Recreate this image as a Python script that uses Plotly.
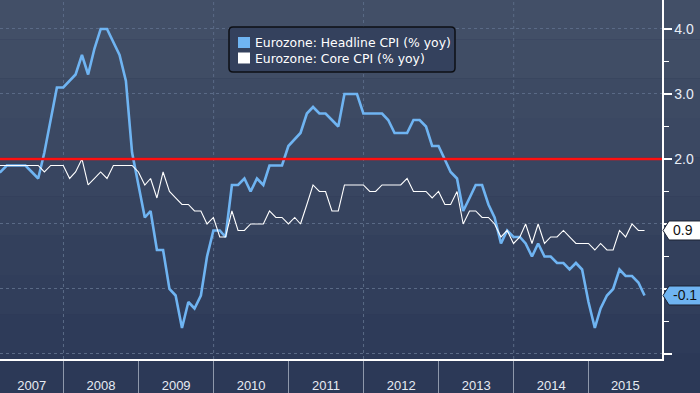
import pandas as pd
import plotly.graph_objects as go

# ---------------- data (monthly, Jan 2007 .. Sep 2015) ----------------
START_MONTH = "2007-01-01"
HEADLINE = [
    1.8, 1.8, 1.9, 1.9, 1.9, 1.9, 1.8, 1.7, 2.1, 2.6, 3.1, 3.1,   # 2007
    3.2, 3.3, 3.6, 3.3, 3.7, 4.0, 4.0, 3.8, 3.6, 3.2, 2.1, 1.6,   # 2008
    1.1, 1.2, 0.6, 0.6, 0.0, -0.1, -0.6, -0.2, -0.3, -0.1, 0.5, 0.9,  # 2009
    0.9, 0.8, 1.6, 1.6, 1.7, 1.5, 1.7, 1.6, 1.9, 1.9, 1.9, 2.2,   # 2010
    2.3, 2.4, 2.7, 2.8, 2.7, 2.7, 2.6, 2.5, 3.0, 3.0, 3.0, 2.7,   # 2011
    2.7, 2.7, 2.7, 2.6, 2.4, 2.4, 2.4, 2.6, 2.6, 2.5, 2.2, 2.2,   # 2012
    2.0, 1.8, 1.7, 1.2, 1.4, 1.6, 1.6, 1.3, 1.1, 0.7, 0.9, 0.8,   # 2013
    0.8, 0.7, 0.5, 0.7, 0.5, 0.5, 0.4, 0.4, 0.3, 0.4, 0.3, -0.2,  # 2014
    -0.6, -0.3, -0.1, 0.0, 0.3, 0.2, 0.2, 0.1, -0.1,              # 2015
]
CORE = [
    1.9, 1.9, 1.9, 1.9, 1.9, 1.9, 1.9, 1.9, 1.8, 1.9, 1.9, 1.9,   # 2007
    1.7, 1.8, 2.0, 1.6, 1.7, 1.8, 1.7, 1.9, 1.9, 1.9, 1.9, 1.8,   # 2008
    1.6, 1.7, 1.4, 1.8, 1.5, 1.4, 1.3, 1.3, 1.2, 1.2, 1.0, 1.1,   # 2009
    0.8, 0.8, 1.2, 0.9, 0.9, 1.0, 1.0, 1.0, 1.2, 1.1, 1.1, 1.0,   # 2010
    1.1, 1.0, 1.3, 1.6, 1.5, 1.5, 1.2, 1.2, 1.6, 1.6, 1.6, 1.6,   # 2011
    1.5, 1.5, 1.6, 1.6, 1.6, 1.6, 1.7, 1.5, 1.5, 1.5, 1.4, 1.5,   # 2012
    1.3, 1.3, 1.5, 1.0, 1.2, 1.2, 1.1, 1.1, 1.0, 0.8, 0.9, 0.7,   # 2013
    0.8, 1.0, 0.7, 1.0, 0.7, 0.8, 0.8, 0.9, 0.8, 0.7, 0.7, 0.7,   # 2014
    0.6, 0.7, 0.6, 0.6, 0.9, 0.8, 1.0, 0.9, 0.9,                  # 2015
]
SERIES_NAMES = ["Eurozone: Headline CPI (% yoy)", "Eurozone: Core CPI (% yoy)"]
YEARS = ["2007", "2008", "2009", "2010", "2011", "2012", "2013", "2014", "2015"]
Y_TICKS = [-1, 0, 1, 2, 3, 4]
Y_TICK_TEXT = ["", "", "", "2.0", "3.0", "4.0"]   # 0.0 / 1.0 hidden behind value tags
TARGET = 2.0

# ---------------- styling ----------------
W, H = 700, 393
ML, MR, MT, MB = 0, 38, 0, 34
PW, PH = W - ML - MR, H - MT - MB
X_RANGE = ["2007-02-26", "2015-12-24"]
Y_RANGE = [-1.077, 4.446]
BLUE = "#6fb4f2"
WHITE = "#ffffff"
GRID = "#5a6a86"
FONT = "Liberation Sans"

dates = pd.date_range(START_MONTH, periods=len(HEADLINE), freq="MS") + pd.offsets.MonthEnd(0)


def px2x(px):
    return (px - ML) / PW


def px2y(py):
    return (MT + PH - py) / PH


fig = go.Figure()
fig.add_trace(go.Scatter(x=dates, y=HEADLINE, mode="lines", name=SERIES_NAMES[0],
                         line=dict(color=BLUE, width=2.6), showlegend=False))
fig.add_trace(go.Scatter(x=dates[:len(CORE)], y=CORE, mode="lines", name=SERIES_NAMES[1],
                         line=dict(color=WHITE, width=1.1), showlegend=False))

shapes = []
# background gradient bands across whole canvas
top_c = (66, 79, 103)
bot_c = (44, 57, 87)
nb = 10
for i in range(nb):
    t = i / (nb - 1)
    c = tuple(round(top_c[k] + (bot_c[k] - top_c[k]) * t) for k in range(3))
    y0 = i * H / nb
    y1 = (i + 1) * H / nb
    shapes.append(dict(type="rect", xref="paper", yref="paper", layer="below",
                       x0=px2x(0), x1=px2x(W), y0=px2y(y1), y1=px2y(y0),
                       fillcolor="rgb(%d,%d,%d)" % c, line=dict(width=0)))

# vertical dashed grid every two years
start = pd.Timestamp(X_RANGE[0])
end = pd.Timestamp(X_RANGE[1])
year_starts = [pd.Timestamp(f"{int(y)}-01-01") for y in YEARS] + [pd.Timestamp(f"{int(YEARS[-1]) + 1}-01-01")]
for ys in year_starts:
    if start < ys < end and ys.year % 2 == 0:
        shapes.append(dict(type="line", xref="x", yref="paper", layer="below",
                           x0=ys, x1=ys, y0=0, y1=1,
                           line=dict(color=GRID, width=1, dash="3px,3px")))

# target line
shapes.append(dict(type="line", xref="paper", yref="y", x0=0, x1=1, y0=TARGET, y1=TARGET,
                   line=dict(color="#ff1010", width=2.5)))

# legend box
lx0, lx1, ly0, ly1, r = 229, 455, 27, 72, 4
X = lambda p: px2x(p)
Y = lambda p: px2y(p)
path = (f"M {X(lx0 + r)} {Y(ly0)} L {X(lx1 - r)} {Y(ly0)} Q {X(lx1)} {Y(ly0)} {X(lx1)} {Y(ly0 + r)} "
        f"L {X(lx1)} {Y(ly1 - r)} Q {X(lx1)} {Y(ly1)} {X(lx1 - r)} {Y(ly1)} "
        f"L {X(lx0 + r)} {Y(ly1)} Q {X(lx0)} {Y(ly1)} {X(lx0)} {Y(ly1 - r)} "
        f"L {X(lx0)} {Y(ly0 + r)} Q {X(lx0)} {Y(ly0)} {X(lx0 + r)} {Y(ly0)} Z")
shapes.append(dict(type="path", xref="paper", yref="paper", path=path,
                   fillcolor="#34415d", line=dict(color="#0d0f14", width=1.5)))
swatch_cols = [BLUE, WHITE]
row_y = [42.5, 58]
annotations = []
for name, col, ry in zip(SERIES_NAMES, swatch_cols, row_y):
    shapes.append(dict(type="rect", xref="paper", yref="paper",
                       x0=X(238), x1=X(250), y0=Y(ry + 5.5), y1=Y(ry - 5.5),
                       fillcolor=col, line=dict(width=0)))
    annotations.append(dict(xref="paper", yref="paper", x=X(253), y=Y(ry), text=name,
                            showarrow=False, xanchor="left", yanchor="middle",
                            font=dict(family="DejaVu Sans", size=12.4, color=WHITE)))

# last-value tags on the right axis
hh = 9.5 * (Y_RANGE[1] - Y_RANGE[0]) / PH
for vals, fill in [(CORE, WHITE), (HEADLINE, BLUE)]:
    v = vals[-1]
    tag = (f"M {X(663)} {v} L {X(669)} {v + hh} L {X(W + 2)} {v + hh} "
           f"L {X(W + 2)} {v - hh} L {X(669)} {v - hh} Z")
    shapes.append(dict(type="path", xref="paper", yref="y", path=tag,
                       fillcolor=fill, line=dict(color="#1b2233", width=1)))
    annotations.append(dict(xref="paper", yref="y", x=X(671), y=v, text=f"{v:.1f}",
                            showarrow=False, xanchor="left", yanchor="middle",
                            font=dict(family=FONT, size=14, color="#111111")))

# year label positions: centre of the visible part of each year
tickvals = []
for i in range(len(YEARS)):
    a = max(year_starts[i], start)
    b = min(year_starts[i + 1], end)
    tickvals.append(a + (b - a) / 2)
minor_vals = [ys for ys in year_starts if start < ys < end]

fig.update_layout(
    width=W, height=H,
    margin=dict(l=ML, r=MR, t=MT, b=MB, pad=0, autoexpand=False),
    paper_bgcolor="rgb(44,57,87)",
    plot_bgcolor="rgba(0,0,0,0)",
    showlegend=False,
    hovermode=False,
    shapes=shapes,
    annotations=annotations,
    xaxis=dict(
        type="date", range=X_RANGE,
        tickmode="array", tickvals=tickvals, ticktext=YEARS,
        ticks="", showgrid=False, zeroline=False,
        showline=True, linecolor=WHITE, linewidth=1.5,
        tickfont=dict(family=FONT, size=13, color="#e6ebf3"),
        ticklabelstandoff=14,
        minor=dict(tickmode="array", tickvals=minor_vals, ticks="outside",
                   ticklen=34, tickwidth=1, tickcolor="#8e98ab", showgrid=False),
    ),
    yaxis=dict(
        side="right", range=Y_RANGE,
        tickmode="array", tickvals=Y_TICKS, ticktext=Y_TICK_TEXT,
        ticks="outside", ticklen=8, tickwidth=2, tickcolor=WHITE,
        showgrid=True, gridcolor=GRID, gridwidth=1, griddash="3px,3px",
        zeroline=False, showline=True, linecolor=WHITE, linewidth=1.5,
        tickfont=dict(family=FONT, size=14, color="#e8eef8"),
        minor=dict(tickmode="array", tickvals=[-0.5, 0.5, 1.5, 2.5, 3.5], ticks="outside",
                   ticklen=5, tickwidth=1.5, tickcolor=WHITE, showgrid=False),
    ),
)

fig.write_html(
    "out.html",
    config={"displayModeBar": False, "staticPlot": True},
    post_script="document.body.style.margin='0';document.body.style.padding='0';"
                "document.body.style.overflow='hidden';",
)
